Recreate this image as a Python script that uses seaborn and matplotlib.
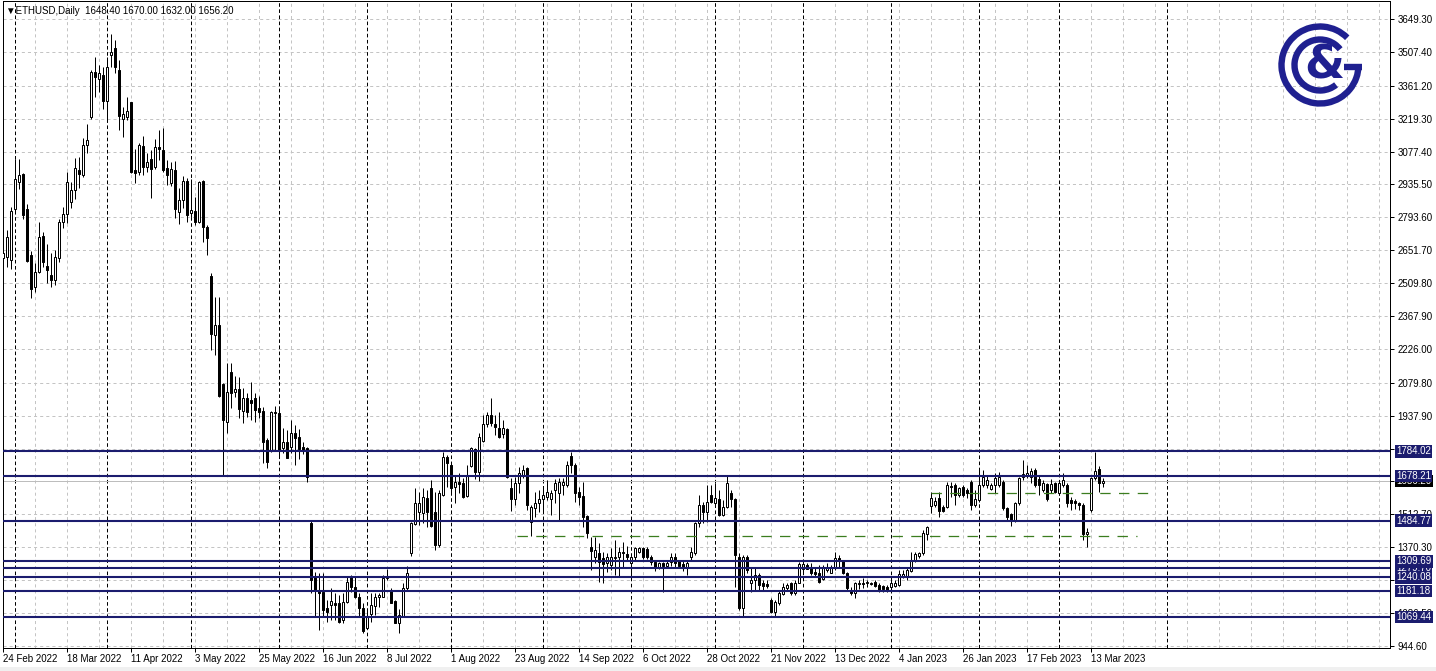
import numpy as np
import pandas as pd
import matplotlib
matplotlib.use("Agg")
import matplotlib.pyplot as plt
import seaborn as sns
from matplotlib.patches import Arc, Rectangle

sns.set_theme(style="white")
plt.rcParams['font.family'] = ['Liberation Sans', 'DejaVu Sans']
plt.rcParams['lines.scale_dashes'] = False

# ---------------- data ----------------
opens = [2620, 2621, 2610, 2828, 2948, 2981, 2828, 2630, 2492, 2559,
         2713, 2585, 2545, 2523, 2617, 2774, 2807, 2858, 2912, 3000,
         2976, 3104, 3225, 3422, 3392, 3408, 3297, 3494, 3523, 3429,
         3219, 3225, 3290, 2998, 2991, 3101, 3012, 3044, 3009, 3097,
         3084, 3005, 2940, 2998, 2818, 2868, 2950, 2814, 2821, 2775,
         2950, 2753, 2541, 2285, 2328, 2075, 1912, 2128, 2039, 2052,
         1960, 2013, 2006, 2013, 1973, 1958, 1833, 1787, 1952, 1948,
         1797, 1826, 1801, 1862, 1847, 1801, 1797, 1476, 1244, 1186,
         1179, 1107, 1121, 1129, 1129, 1057, 1136, 1244, 1200, 1157,
         1107, 1021, 1082, 1117, 1154, 1157, 1236, 1183, 1140, 1045,
         1071, 1193, 1347, 1469, 1521, 1517, 1585, 1625, 1521, 1380,
         1596, 1758, 1725, 1629, 1653, 1649, 1592, 1721, 1793, 1697,
         1830, 1902, 1941, 1902, 1886, 1859, 1879, 1625, 1577, 1649,
         1682, 1711, 1481, 1538, 1560, 1577, 1589, 1577, 1617, 1603,
         1639, 1639, 1764, 1725, 1610, 1591, 1505, 1370, 1330, 1344,
         1322, 1301, 1294, 1323, 1327, 1351, 1340, 1304, 1327, 1351,
         1366, 1361, 1330, 1308, 1284, 1301, 1289, 1308, 1330, 1312,
         1298, 1284, 1327, 1344, 1474, 1553, 1524, 1596, 1560, 1577,
         1510, 1545, 1606, 1577, 1330, 1107, 1327, 1215, 1229, 1251,
         1215, 1212, 1143, 1093, 1129, 1169, 1193, 1218, 1172, 1218,
         1275, 1294, 1279, 1262, 1258, 1232, 1272, 1261, 1279, 1322,
         1312, 1261, 1186, 1172, 1212, 1215, 1215, 1218, 1222, 1208,
         1203, 1200, 1200, 1203, 1208, 1246, 1241, 1269, 1315, 1333,
         1344, 1428, 1548, 1553, 1581, 1545, 1545, 1635, 1639, 1596,
         1632, 1617, 1653, 1553, 1574, 1639, 1639, 1620, 1639, 1639,
         1653, 1538, 1514, 1488, 1560, 1672, 1682, 1675, 1704, 1663,
         1617, 1643, 1617, 1646, 1603, 1639, 1639, 1574, 1571, 1563,
         1553, 1428, 1531, 1668, 1707, 1648.4]

highs = [2732, 2739, 2840, 3044, 3044, 2984, 2851, 2648, 2595, 2775,
         2732, 2679, 2638, 2653, 2785, 2840, 2991, 2948, 3051, 3052,
         3134, 3195, 3429, 3487, 3451, 3444, 3487, 3585, 3559, 3473,
         3268, 3314, 3293, 3087, 3113, 3145, 3070, 3084, 3130, 3170,
         3178, 3041, 3034, 3038, 2919, 2973, 2962, 2958, 2883, 2950,
         2955, 2761, 2555, 2452, 2452, 2080, 2164, 2167, 2109, 2106,
         2056, 2037, 2085, 2034, 2023, 1977, 1840, 1958, 1980, 1980,
         1883, 1876, 1919, 1898, 1879, 1826, 1804, 1484, 1265, 1258,
         1258, 1143, 1193, 1172, 1164, 1172, 1244, 1251, 1244, 1172,
         1129, 1100, 1172, 1172, 1172, 1251, 1275, 1193, 1143, 1103,
         1215, 1290, 1481, 1627, 1610, 1625, 1617, 1661, 1610, 1617,
         1783, 1768, 1732, 1682, 1689, 1668, 1725, 1804, 1797, 1862,
         1941, 1955, 2013, 1941, 1955, 1919, 1883, 1668, 1675, 1718,
         1725, 1715, 1553, 1610, 1617, 1632, 1660, 1617, 1663, 1668,
         1668, 1744, 1783, 1732, 1632, 1653, 1510, 1416, 1416, 1387,
         1351, 1344, 1366, 1402, 1373, 1394, 1376, 1333, 1373, 1373,
         1373, 1373, 1337, 1315, 1308, 1308, 1312, 1344, 1344, 1315,
         1312, 1312, 1373, 1481, 1596, 1567, 1639, 1639, 1646, 1617,
         1574, 1682, 1617, 1581, 1344, 1337, 1337, 1287, 1287, 1258,
         1229, 1229, 1150, 1143, 1186, 1215, 1215, 1222, 1229, 1308,
         1308, 1304, 1301, 1279, 1294, 1294, 1301, 1294, 1351, 1337,
         1315, 1265, 1200, 1222, 1229, 1236, 1229, 1222, 1229, 1215,
         1208, 1208, 1229, 1229, 1272, 1272, 1280, 1351, 1351, 1351,
         1445, 1462, 1610, 1589, 1610, 1553, 1653, 1653, 1646, 1632,
         1639, 1625, 1661, 1617, 1704, 1704, 1682, 1646, 1689, 1696,
         1661, 1545, 1517, 1567, 1675, 1747, 1725, 1711, 1711, 1682,
         1661, 1646, 1663, 1653, 1661, 1689, 1646, 1589, 1577, 1567,
         1560, 1452, 1675, 1783, 1721, 1670.0]

lows = [2290, 2581, 2569, 2822, 2915, 2785, 2600, 2444, 2473, 2552,
        2581, 2509, 2495, 2502, 2602, 2746, 2768, 2833, 2873, 2919,
        2969, 3073, 3216, 3314, 3336, 3260, 3214, 3444, 3415, 3170,
        3139, 3214, 2984, 2940, 2976, 2976, 2991, 2879, 3004, 3041,
        2991, 2933, 2930, 2789, 2765, 2833, 2775, 2797, 2761, 2768,
        2686, 2631, 2221, 2200, 2017, 1682, 1862, 1970, 2020, 1927,
        1905, 1934, 1919, 1912, 1927, 1733, 1711, 1780, 1790, 1761,
        1776, 1754, 1776, 1725, 1750, 1773, 1653, 1172, 1071, 1014,
        1071, 1050, 1057, 1057, 1042, 1042, 1129, 1179, 1150, 1074,
        999, 1016, 1049, 1078, 1114, 1154, 1229, 1129, 1042, 1002,
        1068, 1186, 1333, 1466, 1466, 1474, 1459, 1459, 1359, 1370,
        1592, 1632, 1603, 1560, 1603, 1581, 1586, 1715, 1663, 1658,
        1826, 1891, 1894, 1855, 1840, 1840, 1668, 1528, 1553, 1606,
        1668, 1531, 1419, 1502, 1524, 1524, 1574, 1510, 1560, 1488,
        1596, 1632, 1689, 1567, 1553, 1456, 1409, 1272, 1301, 1222,
        1218, 1265, 1272, 1251, 1243, 1284, 1312, 1243, 1312, 1344,
        1318, 1318, 1294, 1269, 1275, 1179, 1283, 1290, 1287, 1280,
        1269, 1251, 1315, 1337, 1456, 1474, 1481, 1560, 1545, 1505,
        1505, 1538, 1545, 1200, 1100, 1074, 1258, 1179, 1186, 1186,
        1186, 1193, 1085, 1074, 1121, 1164, 1186, 1164, 1164, 1215,
        1265, 1275, 1251, 1243, 1218, 1229, 1265, 1258, 1272, 1287,
        1255, 1186, 1164, 1150, 1189, 1193, 1200, 1208, 1200, 1179,
        1179, 1179, 1186, 1197, 1203, 1236, 1229, 1265, 1308, 1323,
        1337, 1402, 1517, 1545, 1502, 1524, 1538, 1589, 1553, 1589,
        1589, 1581, 1531, 1545, 1567, 1632, 1625, 1617, 1603, 1632,
        1531, 1488, 1462, 1481, 1553, 1661, 1668, 1646, 1632, 1596,
        1610, 1571, 1603, 1603, 1596, 1632, 1545, 1531, 1534, 1531,
        1402, 1370, 1524, 1661, 1610, 1632.0]

closes = [2640, 2707, 2821, 2958, 2976, 2804, 2607, 2483, 2556, 2707,
          2602, 2567, 2523, 2624, 2772, 2807, 2948, 2910, 3005, 2981,
          3104, 3127, 3422, 3398, 3415, 3297, 3441, 3508, 3444, 3232,
          3238, 3252, 2991, 2984, 3104, 3012, 3031, 3004, 3096, 3087,
          2998, 2976, 3002, 2828, 2868, 2950, 2804, 2825, 2775, 2945,
          2753, 2706, 2290, 2328, 2023, 1919, 2042, 2034, 2053, 1965,
          2016, 1955, 1994, 1963, 1955, 1826, 1740, 1952, 1948, 1790,
          1826, 1757, 1862, 1840, 1796, 1786, 1675, 1229, 1186, 1175,
          1100, 1093, 1140, 1120, 1049, 1136, 1222, 1200, 1157, 1107,
          1011, 1068, 1121, 1154, 1164, 1236, 1246, 1131, 1045, 1078,
          1193, 1258, 1474, 1560, 1560, 1586, 1521, 1462, 1380, 1603,
          1758, 1732, 1625, 1653, 1642, 1586, 1682, 1797, 1697, 1848,
          1902, 1941, 1905, 1888, 1848, 1883, 1675, 1577, 1646, 1689,
          1704, 1553, 1545, 1560, 1577, 1596, 1610, 1603, 1646, 1653,
          1653, 1725, 1725, 1606, 1589, 1502, 1433, 1356, 1358, 1308,
          1298, 1327, 1327, 1330, 1351, 1344, 1327, 1327, 1366, 1366,
          1330, 1330, 1308, 1279, 1304, 1289, 1301, 1330, 1304, 1289,
          1284, 1304, 1351, 1474, 1553, 1524, 1567, 1567, 1581, 1510,
          1545, 1646, 1577, 1337, 1107, 1327, 1272, 1229, 1251, 1208,
          1203, 1203, 1093, 1136, 1172, 1200, 1208, 1172, 1218, 1298,
          1298, 1275, 1258, 1255, 1222, 1287, 1284, 1279, 1322, 1312,
          1258, 1193, 1172, 1218, 1218, 1212, 1222, 1212, 1203, 1183,
          1189, 1186, 1218, 1218, 1255, 1255, 1272, 1315, 1341, 1344,
          1433, 1456, 1581, 1571, 1528, 1528, 1639, 1629, 1596, 1625,
          1596, 1603, 1553, 1577, 1639, 1675, 1661, 1639, 1668, 1672,
          1538, 1502, 1485, 1560, 1668, 1686, 1692, 1701, 1639, 1639,
          1646, 1577, 1643, 1610, 1646, 1661, 1560, 1560, 1560, 1553,
          1428, 1438, 1668, 1701, 1646, 1656.2]

date_labels = ["24 Feb 2022", "18 Mar 2022", "11 Apr 2022", "3 May 2022", "25 May 2022",
               "16 Jun 2022", "8 Jul 2022", "1 Aug 2022", "23 Aug 2022", "14 Sep 2022",
               "6 Oct 2022", "28 Oct 2022", "21 Nov 2022", "13 Dec 2022", "4 Jan 2023",
               "26 Jan 2023", "17 Feb 2023", "13 Mar 2023"]
bars_per_label = 16

price_ticks = [3649.30, 3507.40, 3361.20, 3219.30, 3077.40, 2935.50, 2793.60, 2651.70,
               2509.80, 2367.90, 2226.00, 2079.80, 1937.90, 1796.00, 1654.10, 1512.70,
               1370.30, 1228.40, 1086.50, 944.60]
hidden_tick_labels = [1796.00, 1654.10]

level_values = [1784.02, 1678.21, 1484.77, 1309.69, 1279.70, 1240.08, 1181.18, 1069.44]
current_price = 1656.20
header_text = "\u25BCETHUSD,Daily  1648.40 1670.00 1632.00 1656.20"

trend_levels = [1420.0, 1606.0]
trend_start = [128.5, 232.0]
trend_end = [283.5, 288.0]

month_separators = [3, 26, 47, 69, 91, 112, 135, 157, 178, 200, 222, 244, 264, 291]

# ---------------- figure ----------------
W, H = 1436, 671
fig = plt.figure(figsize=(W / 100, H / 100), dpi=100)
fig.patch.set_facecolor("white")
L, R, T, B = 3, 1390, 1, 648
ax = fig.add_axes([L / W, (H - B) / H, (R - L) / W, (B - T) / H])
ax.set_facecolor("white")

df = pd.DataFrame({"open": opens, "high": highs, "low": lows, "close": closes})
df["bar"] = np.arange(len(df))
bull = df[df.close >= df.open]
bear = df[df.close < df.open]

NAVY = "#1b1c6e"
GRID = "#c4c4c4"
GREEN = "#3b7d1f"
PX = 0.72  # one pixel in points
FS = 7.0

x_right = 346.7
ax.set_xlim(-0.075, x_right)
ax.set_ylim(935.8, 3727.0)

# grid
for p in price_ticks:
    ax.axhline(p, color=GRID, lw=PX, ls=(0, (2.2, 2.2)), zorder=1)
for b in range(0, int(x_right) + 1, 8):
    ax.axvline(b, color=GRID, lw=PX, ls=(0, (2.2, 2.2)), zorder=1)
for b in month_separators:
    ax.axvline(b, color="black", lw=PX, ls=(0, (2.6, 1.8)), zorder=1.5)

# current price line
ax.axhline(current_price, color="#bdbdbd", lw=PX, zorder=1.8)

# candles
ax.vlines(df.bar, df.low, df.high, color="black", lw=PX, zorder=3)
ax.bar(bull.bar, bull.close - bull.open, bottom=bull.open, width=0.52,
       color="white", edgecolor="black", lw=PX, zorder=4)
ax.bar(bear.bar, bear.open - bear.close, bottom=bear.close, width=0.52,
       color="black", edgecolor="black", lw=PX, zorder=4)

# horizontal levels
for v in level_values:
    ax.axhline(v, color=NAVY, lw=1.5, zorder=6)
for v, s, e in zip(trend_levels, trend_start, trend_end):
    ax.hlines(v, s, e, color=GREEN, lw=0.9, ls=(0, (7.5, 6.0)), zorder=6)

# axes styling
for sp in ax.spines.values():
    sp.set_color("black")
    sp.set_linewidth(PX)
ax.yaxis.tick_right()
ax.set_yticks(price_ticks)
ax.set_yticklabels(["" if p in hidden_tick_labels else f"{p:.2f}" for p in price_ticks])
xt = [i * bars_per_label for i in range(len(date_labels))]
ax.set_xticks(xt)
ax.set_xticklabels(date_labels)
for lbl in ax.get_xticklabels():
    lbl.set_ha("left")
ax.tick_params(axis="y", which="both", right=True, left=False, length=3, width=PX,
               pad=2.3, labelsize=FS, colors="black", direction="out")
ax.tick_params(axis="x", which="both", bottom=True, length=3, width=PX,
               pad=1.5, labelsize=FS, colors="black", direction="out")
ax.grid(False)

# price boxes on the right scale
def price_box(val, text, fc, z):
    ax.annotate(text, xy=(1, val), xycoords=("axes fraction", "data"),
                xytext=(4.4, 0), textcoords="offset points", ha="left", va="center",
                fontsize=FS, color="white", zorder=z, annotation_clip=False,
                bbox=dict(boxstyle="square,pad=0.13", fc=fc, ec="none"))

price_box(current_price, f"{current_price:.2f}", "black", 8)
for v in level_values:
    price_box(v, f"{v:.2f}", NAVY, 8.5 if abs(v - 1279.70) < 0.01 else 9)

# header
fig.text(6 / W, 1 - 11 / H, header_text, fontsize=FS, ha="left", va="center", color="black")

# bottom status strip
fig.patches.append(Rectangle((0, 0), 1, 4 / H, transform=fig.transFigure,
                             facecolor="#f0f0f0", edgecolor="none", zorder=0))

# logo
LOGO = "#1f2090"
cx, cy, half = 1320, 65, 44
lax = fig.add_axes([(cx - half) / W, (H - cy - half) / H, 2 * half / W, 2 * half / H])
lax.set_xlim(-half, half)
lax.set_ylim(-half, half)
lax.axis("off")
lax.patch.set_alpha(0)
lax.add_patch(Arc((0, 0), 77, 77, theta1=45, theta2=360, lw=4.6, color=LOGO))
lax.plot([23.5, 41.8], [-1.5, -1.5], color=LOGO, lw=4.6, solid_capstyle="butt")
lax.add_patch(Arc((0, 0), 51, 51, theta1=38, theta2=309, lw=4.6, color=LOGO))
lax.text(4, -1, "&", fontsize=33, fontweight="bold", color=LOGO, ha="center", va="center",
         family=["DejaVu Sans"])

fig.savefig("out.png", dpi=100)
